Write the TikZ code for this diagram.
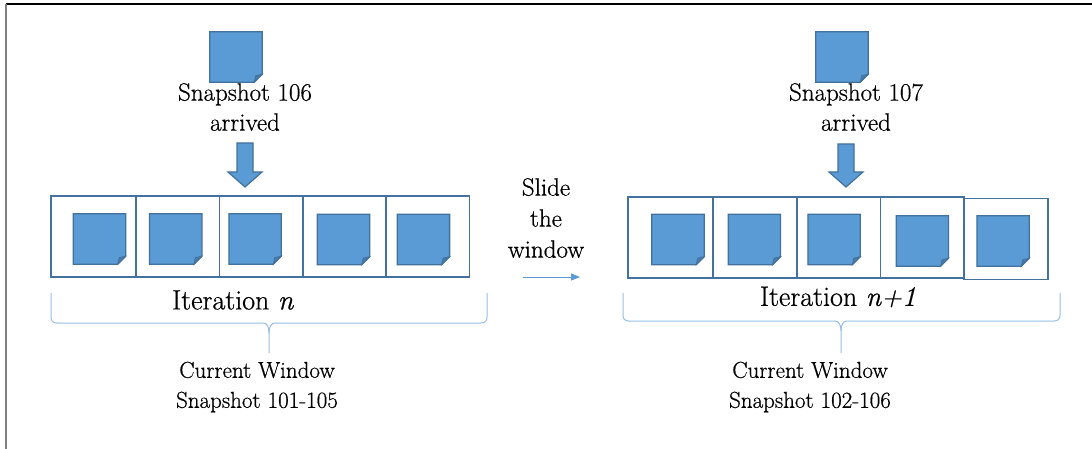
\documentclass[tikz,border=0pt]{standalone}
\usepackage{fontspec}
\setmainfont{Latin Modern Roman}[FakeBold=0.6]
\usepackage{tikz}
\usetikzlibrary{positioning, arrows.meta}
\definecolor{docblue}{RGB}{91,155,213}
\definecolor{docedge}{RGB}{65,113,156}
\definecolor{docfold}{RGB}{72,122,172}
\definecolor{boxedge}{RGB}{68,114,160}
\definecolor{bracecol}{RGB}{150,190,228}
\tikzstyle{slot} = [rectangle, minimum width=83.4pt, minimum height=81pt, inner sep=0pt, outer sep=0pt, draw=boxedge, line width=1.6pt]
\tikzstyle{doc} = [rectangle, minimum width=52pt, minimum height=50pt, inner sep=0pt]
\tikzstyle{snaptext} = [align=center, inner sep=0pt, font=\fontsize{25}{30}\selectfont]
\tikzstyle{itertext} = [inner sep=0pt, font=\fontsize{28}{32}\selectfont]
\tikzstyle{wintext} = [align=center, inner sep=0pt, font=\fontsize{23}{30}\selectfont]
\tikzstyle{blockarrow} = [draw=docedge, fill=docblue, line width=1.2pt, line join=miter]
\tikzstyle{slidearrow} = [draw=docblue, line width=1pt, -{Triangle[length=9pt,width=7pt]}]
\tikzstyle{winbrace} = [draw=bracecol, line width=1pt]
\newcommand{\folddoc}[1]{%
  \draw[docedge, line width=1.3pt, fill=docblue] (#1.north west) -- (#1.north east) -- ([yshift=8pt]#1.south east) -- ([xshift=-8pt]#1.south east) -- (#1.south west) -- cycle;
  \draw[docedge, line width=0.8pt, fill=docfold] ([xshift=-8pt]#1.south east) -- ([yshift=8pt]#1.south east) -- ([xshift=-6.5pt,yshift=6.5pt]#1.south east) -- cycle;}

\begin{document}
\begin{tikzpicture}[x=1pt, y=-1pt]
\useasboundingbox (0,0) rectangle (1092,449);
\draw [black, line width=1.2pt] (6,4) -- (1092,4);
\draw [gray, line width=2pt] (6,4) -- (6,449);

% iteration n
\node (l1) [slot, minimum width=85pt] at (93.5,236.5) {};
\node (l2) [slot, right=0pt of l1] {};
\node (l3) [slot, right=0pt of l2] {};
\node (l4) [slot, right=0pt of l3] {};
\node (l5) [slot, right=0pt of l4] {};
\node (ld1) [doc, xshift=6pt, yshift=-2.5pt] at (l1) {};
\node (ld2) [doc, xshift=-2pt, yshift=-2.5pt] at (l2) {};
\node (ld3) [doc, xshift=-6pt, yshift=-2.5pt] at (l3) {};
\node (ld4) [doc, xshift=-1pt, yshift=-3pt] at (l4) {};
\node (ld5) [doc, xshift=-4.5pt, yshift=-3pt] at (l5) {};
\folddoc{ld1} \folddoc{ld2} \folddoc{ld3} \folddoc{ld4} \folddoc{ld5}

\node (ltop) [doc] at (236,57) {};
\folddoc{ltop}
\node (lsnap) [snaptext] at (245,107) {Snapshot 106\\arrived};
\coordinate (larr) at (245,143);
\draw [blockarrow] (larr) ++(-8,0) -- ++(0,29) -- ++(-9,0) -- ++(17,15) -- ++(17,-15) -- ++(-9,0) -- ++(0,-29) -- cycle;

\node (liter) [itertext] at (233,300) {Iteration \textit{n}};
\draw [winbrace] (51,293) -- (51,317) .. controls (51,321) and (53,323) .. (57,323) -- (263,323) .. controls (267,323) and (269,327) .. (269,333) -- (269,353);
\draw [winbrace] (487,293) -- (487,317) .. controls (487,321) and (485,323) .. (481,323) -- (275,323) .. controls (271,323) and (269,327) .. (269,333);
\node (lwin) [wintext] at (257,387) {Current Window\\Snapshot 101-105};

% slide
\node (slide) [snaptext, font=\fontsize{25}{31}\selectfont] at (546,218) {Slide\\the\\window};
\coordinate (sfrom) at (523,277);
\coordinate (sto) at (580,277);
\draw [slidearrow] (sfrom) -- (sto);

% iteration n+1
\node (r1) [slot, minimum width=85pt] at (670.5,237.5) {};
\node (r2) [slot, minimum width=83.75pt, right=0pt of r1] {};
\node (r3) [slot, minimum width=83.75pt, right=0pt of r2] {};
\node (r4) [slot, minimum width=83.75pt, right=0pt of r3] {};
\node (r5) [slot, minimum width=83.75pt, right=0pt of r4, yshift=-1.5pt] {};
\node (rd1) [doc, xshift=7.5pt, yshift=-2pt] at (r1) {};
\node (rd2) [doc, xshift=-0.5pt, yshift=-2pt] at (r2) {};
\node (rd3) [doc, xshift=-4.5pt, yshift=-2pt] at (r3) {};
\node (rd4) [doc, yshift=-3.5pt] at (r4) {};
\node (rd5) [doc, xshift=-3pt, yshift=-2pt] at (r5) {};
\folddoc{rd1} \folddoc{rd2} \folddoc{rd3} \folddoc{rd4} \folddoc{rd5}

\node (rtop) [doc] at (842,57) {};
\folddoc{rtop}
\node (rsnap) [snaptext] at (856,107) {Snapshot 107\\arrived};
\coordinate (rarr) at (846,144);
\draw [blockarrow] (rarr) ++(-8,0) -- ++(0,28) -- ++(-9,0) -- ++(17,15) -- ++(17,-15) -- ++(-9,0) -- ++(0,-28) -- cycle;

\node (riter) [itertext] at (838,297) {Iteration \textit{n+1}};
\draw [winbrace] (623,293) -- (623,315) .. controls (623,319) and (625,321) .. (629,321) -- (835,321) .. controls (839,321) and (841,325) .. (841,331) -- (841,353);
\draw [winbrace] (1060,293) -- (1060,315) .. controls (1060,319) and (1058,321) .. (1054,321) -- (847,321) .. controls (843,321) and (841,325) .. (841,331);
\node (rwin) [wintext] at (810,387) {Current Window\\Snapshot 102-106};
\end{tikzpicture}
\end{document}
